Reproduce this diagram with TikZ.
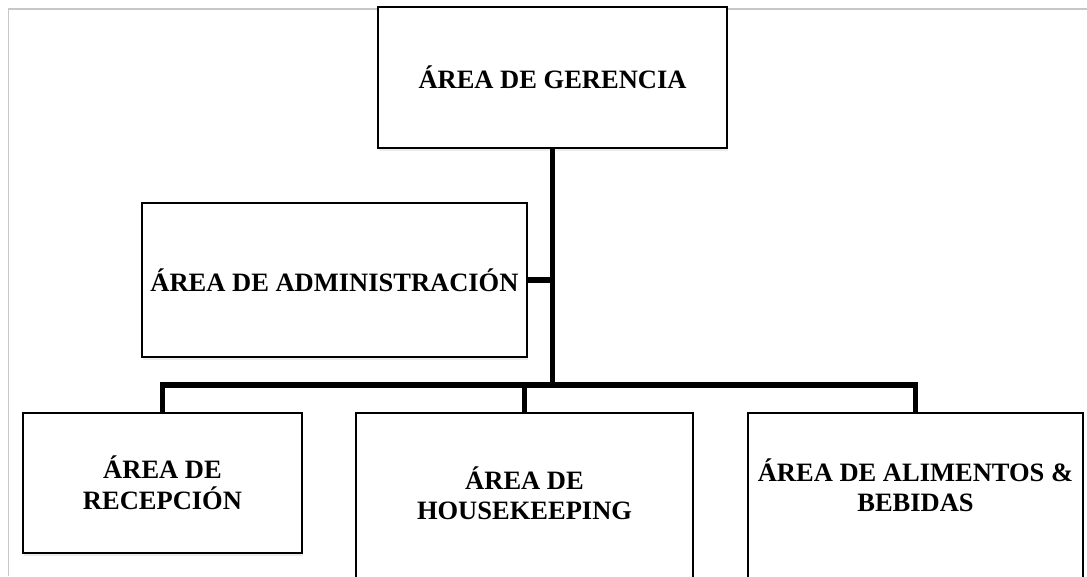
\documentclass[tikz,border=0pt]{standalone}
\usepackage{fontspec}
\setmainfont{Liberation Serif}
\usetikzlibrary{shadows}

\begin{document}
\begin{tikzpicture}[x=1pt,y=-1pt]
  \useasboundingbox (0,0) rectangle (1087,576);
  \draw[black!22,line width=1.5pt] (8.5,576) -- (8.5,9) -- (1087,9);
  \begin{scope}[
    every node/.style={
      draw,
      fill=white,
      line width=1.6pt,
      anchor=north west,
      inner sep=0pt,
      outer sep=0pt,
      align=center,
      font=\fontsize{26.5}{30.5}\selectfont\bfseries,
      drop shadow={shadow xshift=1pt,shadow yshift=-2.5pt,opacity=0.15},
    },
    ]
    \node[minimum width=349pt,minimum height=141pt] (area-gerencia) at (378,7)
    {ÁREA DE GERENCIA};
    \node[minimum width=385pt,minimum height=154pt] (area-administracion) at (142,203)
    {ÁREA DE ADMINISTRACIÓN};
    \node[minimum width=279pt,minimum height=140pt] (area-recepcion) at (23,413)
    {ÁREA DE\\RECEPCIÓN};
    \node[minimum width=337pt,minimum height=200pt,text depth=40pt] (area-housekeeping) at (356,413)
    {ÁREA DE\\HOUSEKEEPING};
    \node[minimum width=335pt,minimum height=200pt,text depth=56pt] (area-alimentos) at (748,413)
    {ÁREA DE ALIMENTOS \&\\BEBIDAS};
  \end{scope}
  \coordinate (bus) at (552.5,385);
  \begin{scope}[every path/.style={draw,line width=5.5pt}]
    \path (area-gerencia.south) -- (bus);
    \path (area-administracion.east) -- (area-administracion.east -| bus);
    \path (area-recepcion.north) |- (bus) -| (area-alimentos.north);
    \path (area-housekeeping.north) -- (area-housekeeping.north |- bus);
  \end{scope}
\end{tikzpicture}
\end{document}
